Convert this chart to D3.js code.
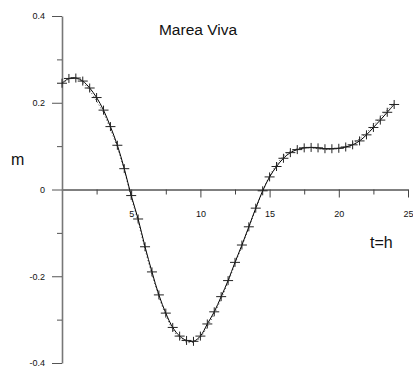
<!DOCTYPE html>
<html>
<head>
<meta charset="utf-8">
<script src="https://cdn.jsdelivr.net/npm/d3@7"></script>
<style>
  html, body { margin: 0; padding: 0; background: #fff; }
  svg { display: block; }
  text { font-family: "Liberation Sans", Arial, sans-serif; fill: #111; }
</style>
</head>
<body>
<svg id="chart" width="413" height="368"></svg>
<script>
// Tide height (m) every half hour, 0 h to 24 h
const hours = d3.range(0, 24.01, 0.5);
const predicted = [
  0.245, 0.256, 0.257, 0.250, 0.234, 0.212, 0.183, 0.145, 0.102, 0.048,
  -0.014, -0.068, -0.132, -0.190, -0.243, -0.285, -0.318, -0.338, -0.348, -0.350,
  -0.338, -0.310, -0.282, -0.247, -0.210, -0.168, -0.128, -0.086, -0.043, -0.003,
  0.029, 0.053, 0.072, 0.085, 0.092, 0.096, 0.097, 0.096, 0.094, 0.094,
  0.095, 0.098, 0.103, 0.112, 0.126, 0.143, 0.160, 0.178, 0.196
];
const observed = [
  0.243, 0.254, 0.256, 0.247, 0.228, 0.204, 0.176, 0.139, 0.096, 0.044,
  -0.018, -0.074, -0.138, -0.196, -0.247, -0.290, -0.323, -0.342, -0.352, -0.352,
  -0.341, -0.316, -0.287, -0.252, -0.214, -0.171, -0.131, -0.088, -0.045, -0.004,
  0.031, 0.057, 0.077, 0.088, 0.094, 0.097, 0.096, 0.094, 0.092, 0.093,
  0.095, 0.099, 0.106, 0.117, 0.131, 0.148, 0.166, 0.183, 0.199
];
const xMajor = [5, 10, 15, 20, 25];
const xMinor = [2.5, 7.5, 12.5, 17.5, 22.5];
const yMajor = [0.4, 0.2, 0, -0.2, -0.4];
const yMinor = [0.3, 0.1, -0.1, -0.3];
const yLabels = ["0.4", "0.2", "0", "-0.2", "-0.4"];

const svg = d3.select("#chart");
const x = d3.scaleLinear().domain([0, 25]).range([62, 408]);
const y = d3.scaleLinear().domain([-0.4, 0.4]).range([363, 16]);

// x axis through zero, ticks pointing down
const xAxisG = svg.append("g").attr("transform", `translate(0,${y(0)})`);
xAxisG.call(d3.axisBottom(x).tickValues(xMajor).tickSize(8).tickSizeOuter(0).tickPadding(13))
  .call(g => g.select(".domain").attr("stroke", "#000").attr("stroke-width", 1))
  .call(g => g.selectAll(".tick line").attr("stroke", "#444"))
  .call(g => g.selectAll(".tick text").attr("font-size", 9).attr("fill", "#111")
    .attr("font-family", "Liberation Sans, Arial, sans-serif"));
xAxisG.append("g")
  .call(d3.axisBottom(x).tickValues(xMinor).tickSize(5).tickFormat(""))
  .call(g => g.select(".domain").remove())
  .call(g => g.selectAll(".tick line").attr("stroke", "#444"));

// y axis at t = 0, ticks pointing left
const yAxisG = svg.append("g").attr("transform", `translate(${x(0)},0)`);
yAxisG.call(d3.axisLeft(y).tickValues(yMajor).tickSize(10).tickSizeOuter(0).tickPadding(7)
    .tickFormat((d, i) => yLabels[i]))
  .call(g => g.select(".domain").attr("stroke", "#777").attr("stroke-width", 1.6))
  .call(g => g.selectAll(".tick line").attr("stroke", "#555"))
  .call(g => g.selectAll(".tick text").attr("font-size", 9).attr("fill", "#111")
    .attr("font-family", "Liberation Sans, Arial, sans-serif"));
yAxisG.append("g")
  .call(d3.axisLeft(y).tickValues(yMinor).tickSize(5).tickFormat(""))
  .call(g => g.select(".domain").remove())
  .call(g => g.selectAll(".tick line").attr("stroke", "#555"));

// observed series, dotted
const obsLine = d3.line().x((d, i) => x(hours[i])).y(d => y(d)).curve(d3.curveCatmullRom);
svg.append("path").datum(observed)
  .attr("d", obsLine)
  .attr("fill", "none").attr("stroke", "#666").attr("stroke-width", 1)
  .attr("stroke-dasharray", "1.2,2.2");

// predicted series, solid line
const predLine = d3.line().x((d, i) => x(hours[i])).y(d => y(d)).curve(d3.curveCatmullRom);
svg.append("path").datum(predicted)
  .attr("d", predLine)
  .attr("fill", "none").attr("stroke", "#000").attr("stroke-width", 1);

// "+" markers on the predicted values
const sym = d3.symbol().type(d3.symbolCross);
const marks = svg.append("g").selectAll("g").data(predicted).join("g")
  .attr("transform", (d, i) => `translate(${x(hours[i])},${y(d)})`);
marks.append("line").attr("x1", -5).attr("x2", 5).attr("y1", 0).attr("y2", 0)
  .attr("stroke", "#222").attr("stroke-width", 1);
marks.append("line").attr("x1", 0).attr("x2", 0).attr("y1", -4.5).attr("y2", 4.5)
  .attr("stroke", "#222").attr("stroke-width", 1);

// titles and axis names
svg.append("text").attr("x", 198).attr("y", 35).attr("text-anchor", "middle")
  .attr("font-size", 15.5).text("Marea Viva");
svg.append("text").attr("x", 11).attr("y", 165).attr("font-size", 16).text("m");
svg.append("text").attr("x", 370).attr("y", 248).attr("font-size", 16).text("t=h");
</script>
</body>
</html>
